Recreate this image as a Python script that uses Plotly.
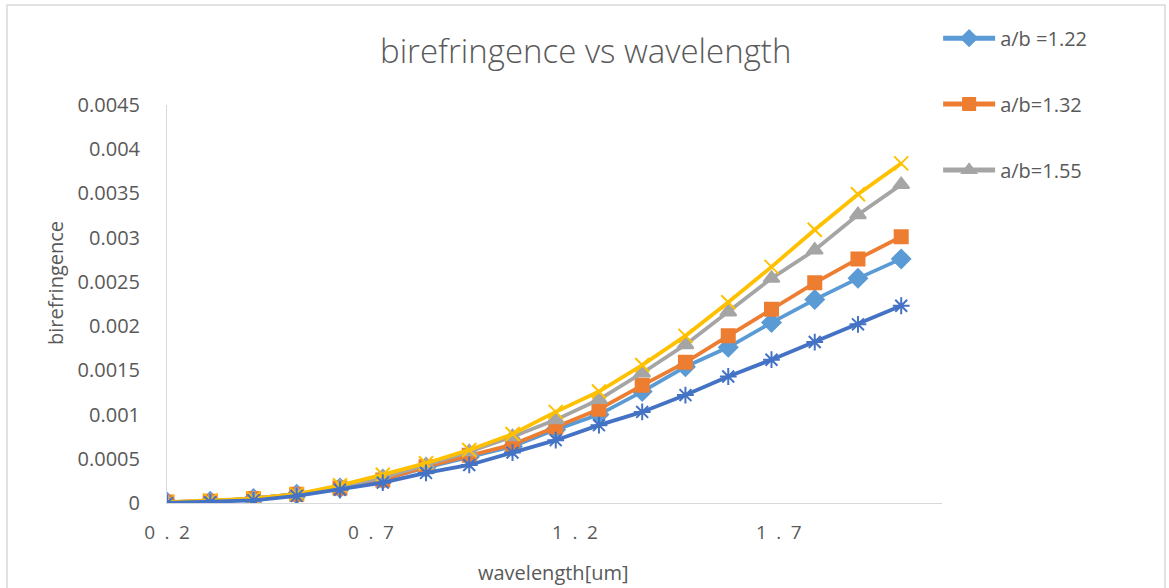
import plotly.graph_objects as go

# ---- data ----
wavelength = [0.2, 0.306, 0.412, 0.518, 0.624, 0.729, 0.835, 0.941, 1.047,
              1.153, 1.259, 1.365, 1.471, 1.576, 1.682, 1.788, 1.894, 2.0]
ab_122 = [0.00001, 0.00002, 0.00005, 0.0001, 0.00017, 0.00027, 0.0004, 0.00052, 0.00064,
          0.00083, 0.001, 0.00126, 0.00154, 0.00176, 0.00204, 0.0023, 0.00254, 0.00276]
ab_132 = [0.00001, 0.00002, 0.00005, 0.0001, 0.00017, 0.00026, 0.00041, 0.00054, 0.00066,
          0.00086, 0.00106, 0.00133, 0.00159, 0.00189, 0.00219, 0.00249, 0.00276, 0.00301]
ab_155 = [0.00001, 0.00002, 0.00005, 0.0001, 0.00018, 0.00029, 0.00043, 0.00058, 0.00075,
          0.00094, 0.00117, 0.00147, 0.00179, 0.00216, 0.00254, 0.00286, 0.00326, 0.0036]
series4 = [0.00001, 0.00003, 0.00005, 0.0001, 0.0002, 0.00032, 0.00045, 0.0006, 0.00078,
           0.00103, 0.00126, 0.00156, 0.00189, 0.00227, 0.00267, 0.00309, 0.00349, 0.00384]
series5 = [0.0, 0.00001, 0.00003, 0.00008, 0.00015, 0.00023, 0.00034, 0.00043, 0.00057,
           0.00071, 0.00088, 0.00103, 0.00122, 0.00143, 0.00162, 0.00182, 0.00202, 0.00223]

x_tickvals = [0.2, 0.7, 1.2, 1.7]
x_ticktext = ["0\u2002.\u20022", "0\u2002.\u20027", "1\u2002.\u20022", "1\u2002.\u20027"]
y_tickvals = [0, 0.0005, 0.001, 0.0015, 0.002, 0.0025, 0.003, 0.0035, 0.004, 0.0045]
y_ticktext = ["0", "0.0005", "0.001", "0.0015", "0.002", "0.0025", "0.003", "0.0035", "0.004", "0.0045"]

FONT = "Open Sans"
TXT = "#595959"

fig = go.Figure()

specs = [
    ("a/b =1.22", ab_122, "#5B9BD5", "diamond", 14, "legend"),
    ("a/b=1.32", ab_132, "#ED7D31", "square", 13, "legend2"),
    ("a/b=1.55", ab_155, "#A5A5A5", "triangle-up", 14, "legend3"),
    ("Series4", series4, "#FFC000", "x-thin-open", 14, None),
    ("Series5", series5, "#4472C4", "asterisk-open", 14, None),
]
for name, ys, col, sym, sz, leg in specs:
    kw = dict(legend=leg) if leg else dict(showlegend=False)
    fig.add_trace(go.Scatter(
        x=wavelength, y=ys, name=name, mode="lines+markers",
        line=dict(color=col, width=3.8),
        marker=dict(symbol=sym, size=sz, color=col, line=dict(color=col, width=2)),
        **kw))

leg_common = dict(xanchor="left", yanchor="middle", bgcolor="rgba(0,0,0,0)",
                  font=dict(family=FONT, size=20, color=TXT), itemwidth=52,
                  itemsizing="constant")
fig.update_layout(
    width=1169, height=588,
    margin=dict(l=167, r=227, t=105, b=85),
    paper_bgcolor="white", plot_bgcolor="white",
    font=dict(family=FONT, color=TXT),
    legend=dict(x=0.995, y=1.168, **leg_common),
    legend2=dict(x=0.995, y=1.0025, **leg_common),
    legend3=dict(x=0.995, y=0.8367, **leg_common),
    xaxis=dict(range=[0.2, 2.1], tickvals=x_tickvals, ticktext=x_ticktext,
               showgrid=False, zeroline=False, showline=True, linecolor="#D9D9D9",
               linewidth=1, ticks="", tickfont=dict(family=FONT, size=19, color=TXT),
               ticklabelstandoff=12),
    yaxis=dict(range=[0, 0.0045], tickvals=y_tickvals, ticktext=y_ticktext,
               showgrid=False, zeroline=False, showline=True, linecolor="#D9D9D9",
               linewidth=1, ticks="", tickfont=dict(family=FONT, size=20, color=TXT),
               ticklabelstandoff=22),
    annotations=[
        dict(text="birefringence vs wavelength", xref="paper", yref="paper",
             x=(585 - 167) / 775, y=(503 - 50) / 398, xanchor="center", yanchor="middle",
             showarrow=False, font=dict(family=FONT, size=33, color=TXT, weight=300)),
        dict(text="birefringence", xref="paper", yref="paper",
             x=(55 - 167) / 775, y=(503 - 283) / 398, xanchor="center", yanchor="middle",
             textangle=-90, showarrow=False, font=dict(family=FONT, size=20, color=TXT)),
        dict(text="wavelength[um]", xref="paper", yref="paper",
             x=(553 - 167) / 775, y=(503 - 572) / 398, xanchor="center", yanchor="middle",
             showarrow=False, font=dict(family=FONT, size=20, color=TXT)),
    ],
    shapes=[dict(type="rect", xref="paper", yref="paper",
                 x0=(7 - 167) / 775, x1=(1165 - 167) / 775,
                 y0=(503 - 620) / 398, y1=(503 - 5) / 398,
                 line=dict(color="#D9D9D9", width=1.5), fillcolor="rgba(0,0,0,0)", layer="below")],
)

fig.write_html("out.html")
